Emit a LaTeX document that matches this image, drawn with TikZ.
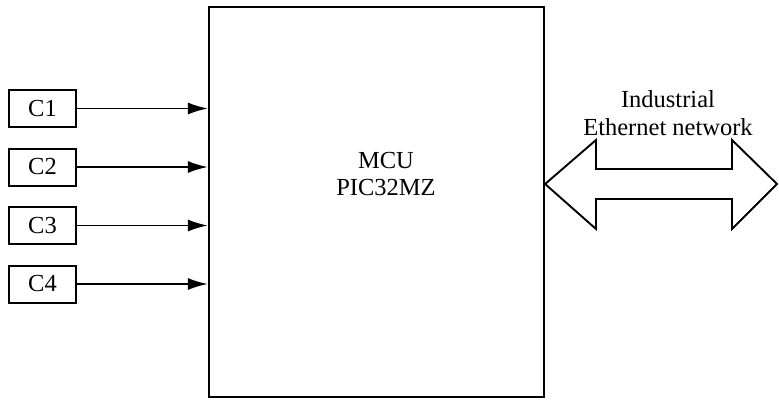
\documentclass[tikz,border=0pt]{standalone}
\usepackage{fontspec}
\setmainfont{Liberation Serif}
\usetikzlibrary{arrows.meta}
\begin{document}
\begin{tikzpicture}[x=1pt,y=-1pt,
  every node/.style={font=\fontsize{24.5}{27.5}\selectfont},
  cbox/.style={draw,line width=2pt,minimum width=67pt,minimum height=37pt,inner sep=0pt},
  mcubox/.style={draw,line width=2.2pt,minimum width=335pt,minimum height=390pt,inner sep=0pt},
  inarrow/.style={line width=1.9pt,-{Latex[length=20pt,width=12pt]}},
  bigarrow/.style={draw,line width=1.9pt,line join=miter}]
\useasboundingbox (0,0) rectangle (779,399);
\node[mcubox] (mcu) at (376.5,202) {};
\node[align=center] (mcutext) at (386,174) {MCU\\PIC32MZ};
\node[cbox] (c1) at (42.5,108.5) {C1};
\node[cbox] (c2) at (42.5,167) {C2};
\node[cbox] (c3) at (42.5,225.5) {C3};
\node[cbox] (c4) at (42.5,284) {C4};
\foreach \c in {c1,c2,c3,c4}
  \draw[inarrow] (\c.east) -- (mcu.west |- \c.east);
\node[align=center] (net) at (668,113) {Industrial\\Ethernet network};
\path[bigarrow] (mcu.east |- 0,184) -- (596,140) -- (596,169) -- (732,169) -- (732,140)
  -- (777,184) -- (732,229) -- (732,199) -- (596,199) -- (596,229) -- cycle;
\end{tikzpicture}
\end{document}
